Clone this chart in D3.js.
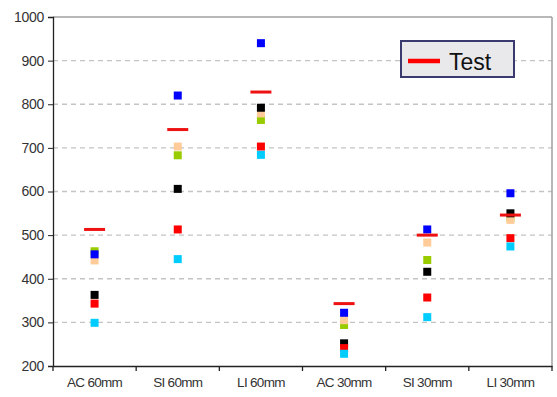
<!DOCTYPE html>
<html><head><meta charset="utf-8">
<script src="https://cdn.jsdelivr.net/npm/d3@7"></script>
<style>body{margin:0;background:#fff}svg{display:block}</style>
</head><body>
<svg id="c" width="557" height="397"></svg>
<script>
const categories = ["AC 60mm","SI 60mm","LI 60mm","AC 30mm","SI 30mm","LI 30mm"];
const yTicks = [200,300,400,500,600,700,800,900,1000];
const testValues  = [513, 742, 828, 343, 500, 546];
const greenValues = [463, 683, 764, 294, 443, 540];
const peachValues = [442, 703, 779, 305, 483, 535];
const blueValues  = [456, 820, 940, 322, 513, 596];
const blackValues = [363, 606, 792, 252, 416, 550];
const redValues   = [343, 513, 703, 241, 357, 493];
const cyanValues  = [299, 445, 684, 228, 312, 474];
const seriesList = [
  {values: greenValues, color: "#99cc00"},
  {values: peachValues, color: "#ffcc99"},
  {values: blueValues,  color: "#0000ff"},
  {values: blackValues, color: "#000000"},
  {values: redValues,   color: "#ff0000"},
  {values: cyanValues,  color: "#00ccff"}
];

const svg = d3.select("#c");
const L = 53, R = 552, T = 17, B = 366;
const x = d3.scaleBand().domain(categories).range([L, R]);
const y = d3.scaleLinear().domain([200, 1000]).range([B, T]);

// gridlines
svg.append("g").selectAll("line").data(yTicks.filter(d => d > 200 && d < 1000)).join("line")
  .attr("x1", L).attr("x2", R).attr("y1", d => y(d)).attr("y2", d => y(d))
  .attr("stroke", "#c4c4c4").attr("stroke-width", 1.4).attr("stroke-dasharray", "5,4");

// top and right border
svg.append("line").attr("x1", L).attr("x2", R).attr("y1", y(1000)).attr("y2", y(1000))
  .attr("stroke", "#a0a0a0").attr("stroke-width", 1.5);
svg.append("line").attr("x1", R).attr("x2", R).attr("y1", T).attr("y2", B)
  .attr("stroke", "#a0a0a0").attr("stroke-width", 1.5);

// y axis
const ya = svg.append("g").attr("transform", `translate(${L},0)`)
  .call(d3.axisLeft(y).tickValues(yTicks).tickSize(5).tickPadding(4).tickFormat(d3.format("d")));
ya.select(".domain").attr("stroke", "#222").attr("stroke-width", 1.3);
ya.selectAll(".tick line").attr("stroke", "#222");
ya.selectAll("text").attr("font-family", "Liberation Sans, Arial, sans-serif").attr("font-size", 14)
  .attr("letter-spacing", "-0.3").attr("fill", "#333");

// x axis
const xa = svg.append("g").attr("transform", `translate(0,${B})`)
  .call(d3.axisBottom(x).tickSize(0).tickPadding(11));
xa.select(".domain").attr("stroke", "#222").attr("stroke-width", 1.3);
xa.selectAll("text").attr("font-family", "Liberation Sans, Arial, sans-serif").attr("font-size", 13.5)
  .attr("letter-spacing", "-0.7").attr("fill", "#333");
// boundary ticks
const bounds = categories.map(c => x(c)).concat([R]);
svg.append("g").selectAll("line").data(bounds).join("line")
  .attr("x1", d => d).attr("x2", d => d).attr("y1", B).attr("y2", B + 5)
  .attr("stroke", "#222").attr("stroke-width", 1.3);

// markers
const ms = 8;
seriesList.forEach(s => {
  svg.append("g").selectAll("rect").data(s.values).join("rect")
    .attr("x", (d, i) => x(categories[i]) + x.bandwidth() / 2 - ms / 2)
    .attr("y", d => y(d) - ms / 2)
    .attr("width", ms).attr("height", ms)
    .attr("fill", s.color);
});

// Test dashes
svg.append("g").selectAll("line").data(testValues).join("line")
  .attr("x1", (d, i) => x(categories[i]) + x.bandwidth() / 2 - 10.5)
  .attr("x2", (d, i) => x(categories[i]) + x.bandwidth() / 2 + 10.5)
  .attr("y1", d => y(d)).attr("y2", d => y(d))
  .attr("stroke", "#ee1111").attr("stroke-width", 3);

// legend
const lg = svg.append("g");
lg.append("rect").attr("x", 401).attr("y", 41).attr("width", 113).attr("height", 36)
  .attr("fill", "#e9e9ec").attr("stroke", "#3a3a6e").attr("stroke-width", 2);
lg.append("line").attr("x1", 408).attr("x2", 440).attr("y1", 61).attr("y2", 61)
  .attr("stroke", "#ff0000").attr("stroke-width", 4.5);
lg.append("text").attr("x", 449).attr("y", 70).text("Test")
  .attr("font-family", "Liberation Sans, Arial, sans-serif").attr("font-size", 23).attr("fill", "#111");
</script>
</body></html>
